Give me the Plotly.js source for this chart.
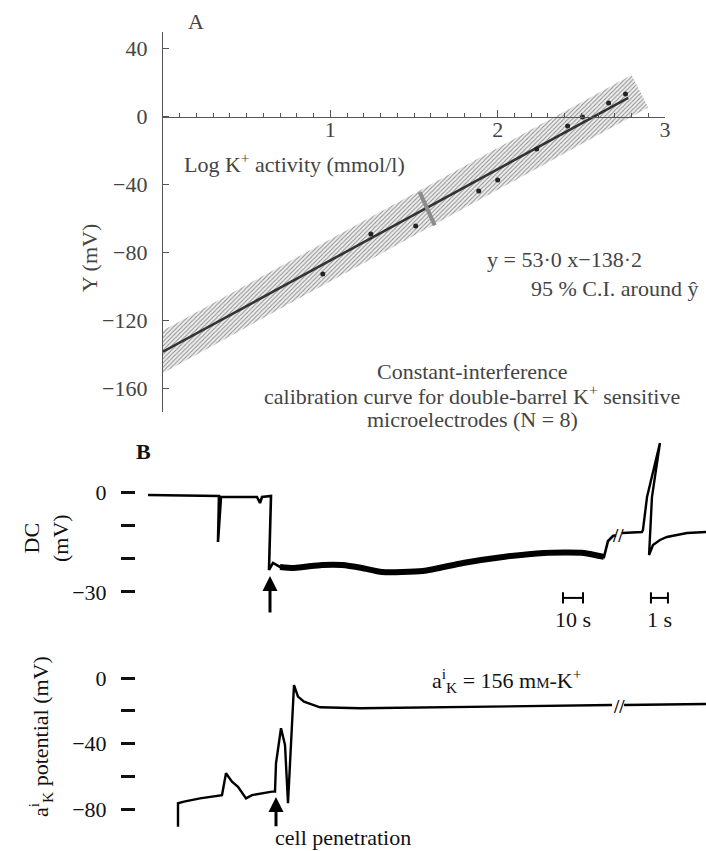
<!DOCTYPE html>
<html>
<head>
<meta charset="utf-8">
<script src="https://cdn.plot.ly/plotly-3.0.1.min.js"></script>
<style>
  html, body { margin: 0; padding: 0; background: #fff; }
  #chart { width: 706px; height: 851px; }
</style>
</head>
<body>
<div id="chart"></div>
<script>
// ---------- Panel A: calibration data ----------
const logK = [0.955, 1.242, 1.510, 1.887, 2.000, 2.233, 2.418, 2.507, 2.663, 2.764];
const yMv  = [-92.5, -69.0, -64.3, -43.7, -37.2, -19.0, -5.5, -0.2, 8.1, 13.4];
const fitX = [0, 2.78];
const fitY = [-138.2, 11.0];
const ciX  = [0, 2.80, 2.90, 0];
const ciY  = [-125.7, 24.5, 5.4, -150.7];
const meanMarkX = [1.534, 1.624];
const meanMarkY = [-44.4, -63.9];
const aYTicks = [40, 0, -40, -80, -120, -160];
const aXTicks = [1, 2, 3];

// ---------- Panel B: recordings ----------
// slow time base (s) before the break, fast time base (s) after the break
const dcSlowT = [0, 35.5, 35, 36.5, 54.5, 56, 57, 61.5, 60.5, 62.5, 66, 73, 87, 97, 107, 117, 137.5, 157.5, 177.5, 198, 218, 228, 230, 232.5, 234];
const dcSlowV = [-0.9, -1.2, -15.0, -1.5, -1.5, -3.3, -1.5, -1.2, -23.4, -21.3, -22.5, -22.8, -21.9, -21.9, -22.8, -24.0, -23.7, -21.3, -19.5, -18.3, -18.3, -19.5, -14.7, -13.2, -13.0];
const dcNoisyFrom = 10, dcNoisyTo = 21;   // index range of the noisy (thick) stretch
const dcFastT = [0.12, 1.29, 1.35, 1.59, 2.35, 1.88, 1.71, 1.94, 2.35, 2.76, 3.94, 5.06];
const dcFastV = [-12.3, -12.0, -11.4, -1.5, 14.7, -1.5, -18.9, -15.9, -14.4, -13.5, -12.3, -12.0];

const akSlowT = [15, 15, 18, 26, 37, 39, 42, 45, 49, 52, 62, 63.5, 64, 66.5, 68.5, 70, 73, 75, 78, 86, 106, 166, 232];
const akSlowV = [-90.8, -76.5, -75.5, -73.5, -71.5, -58.2, -63.3, -66.4, -73.5, -71.5, -69.4, -69.4, -52.1, -30.7, -40.9, -76.5, -4.3, -11.4, -14.5, -17.9, -18.5, -17.5, -16.5];
const akFastT = [0.24, 5.06];
const akFastV = [-16.5, -15.9];

const dcTickVals = [0, -10, -20, -30];
const dcTickText = ['0', '', '', '\u221230'];
const akTickVals = [0, -20, -40, -60, -80];
const akTickText = ['0', '', '\u221240', '', '\u221280'];

const bar10T = [207.5, 217.5];
const bar1T  = [1.82, 2.82];
const barV   = [-31.8, -31.8];

// ---------- layout helpers ----------
const W = 706, H = 851;
const px = x => x / W;
const py = y => 1 - y / H;
const SERIF = 'Liberation Serif, Times New Roman, serif';
const grayTxt = '#444';
const fA = {family: SERIF, size: 22, color: grayTxt};
const fB = {family: SERIF, size: 22, color: '#111'};

function note(text, x, y, font, opts) {
  return Object.assign({text: text, x: px(x), y: py(y), xref: 'paper', yref: 'paper',
    xanchor: 'center', yanchor: 'middle', showarrow: false, font: font}, opts || {});
}

const traces = [
  // Panel A
  {x: ciX, y: ciY, type: 'scatter', mode: 'lines', fill: 'toself',
   fillcolor: '#efefef', line: {width: 0, color: 'rgba(0,0,0,0)'},
   fillpattern: {shape: '/', fgcolor: '#8a8a8a', bgcolor: '#efefef', size: 3, solidity: 0.32},
   xaxis: 'x', yaxis: 'y', hoverinfo: 'skip'},
  {x: fitX, y: fitY, type: 'scatter', mode: 'lines',
   line: {color: '#333', width: 2.6}, xaxis: 'x', yaxis: 'y'},
  {x: meanMarkX, y: meanMarkY, type: 'scatter', mode: 'lines',
   line: {color: '#8c8c8c', width: 4}, xaxis: 'x', yaxis: 'y'},
  {x: logK, y: yMv, type: 'scatter', mode: 'markers',
   marker: {color: '#222', size: 5}, xaxis: 'x', yaxis: 'y'},

  // Panel B, DC trace
  {x: dcSlowT, y: dcSlowV, type: 'scatter', mode: 'lines',
   line: {color: '#000', width: 2.6}, xaxis: 'x2', yaxis: 'y2'},
  {x: dcSlowT.slice(dcNoisyFrom, dcNoisyTo + 1), y: dcSlowV.slice(dcNoisyFrom, dcNoisyTo + 1),
   type: 'scatter', mode: 'lines',
   line: {color: '#000', width: 6, shape: 'spline', smoothing: 0.6}, xaxis: 'x2', yaxis: 'y2'},
  {x: dcFastT, y: dcFastV, type: 'scatter', mode: 'lines',
   line: {color: '#000', width: 2.4}, xaxis: 'x3', yaxis: 'y2'},
  // scale bars
  {x: bar10T, y: barV, type: 'scatter', mode: 'lines+markers',
   line: {color: '#000', width: 2}, marker: {symbol: 'line-ns', size: 8, line: {width: 2, color: '#000'}},
   xaxis: 'x2', yaxis: 'y2'},
  {x: bar1T, y: barV, type: 'scatter', mode: 'lines+markers',
   line: {color: '#000', width: 2}, marker: {symbol: 'line-ns', size: 8, line: {width: 2, color: '#000'}},
   xaxis: 'x3', yaxis: 'y2'},

  // Panel B, aK trace
  {x: akSlowT, y: akSlowV, type: 'scatter', mode: 'lines',
   line: {color: '#000', width: 2.4}, xaxis: 'x2', yaxis: 'y3'},
  {x: akFastT, y: akFastV, type: 'scatter', mode: 'lines',
   line: {color: '#000', width: 2.4}, xaxis: 'x3', yaxis: 'y3'}
];

const yBAxis = (dom, range, tv, tt) => ({
  domain: dom, range: range, anchor: 'free', position: px(135),
  showline: false, zeroline: false, showgrid: false,
  ticks: 'outside', ticklen: 14, tickwidth: 3, tickcolor: '#111',
  tickmode: 'array', tickvals: tv, ticktext: tt,
  ticklabelstandoff: 10, tickfont: fB
});

const breakFont = {family: SERIF, size: 19, color: '#111'};

const layout = {
  width: W, height: H,
  margin: {l: 0, r: 0, t: 0, b: 0},
  paper_bgcolor: '#fff', plot_bgcolor: 'rgba(0,0,0,0)',
  showlegend: false,
  xaxis: {
    domain: [px(163), px(665)], range: [0, 3],
    anchor: 'free', position: py(116.7),
    showline: true, linecolor: '#555', linewidth: 1.2,
    zeroline: false, showgrid: false,
    ticks: 'inside', ticklen: 7, tickcolor: '#555',
    tickmode: 'array', tickvals: aXTicks,
    ticklabelstandoff: -7,
    minor: {tickmode: 'linear', tick0: 0, dtick: 0.1, ticks: 'inside', ticklen: 4, tickcolor: '#555', showgrid: false},
    tickfont: fA
  },
  yaxis: {
    domain: [py(412), py(32)], range: [-173.7, 49.8],
    anchor: 'x', showline: true, linecolor: '#555', linewidth: 1.2,
    zeroline: false, showgrid: false,
    ticks: 'inside', ticklen: 6, tickcolor: '#555',
    tickmode: 'array', tickvals: aYTicks,
    ticklabelstandoff: 10, tickfont: fA
  },
  xaxis2: {domain: [px(148), px(618)], range: [0, 235], visible: false, anchor: 'y2'},
  xaxis3: {domain: [px(620), 1], range: [0, 86 / 17], visible: false, anchor: 'y2'},
  yaxis2: yBAxis([py(640), py(440)], [-44.44, 15.62], dcTickVals, dcTickText),
  yaxis3: yBAxis([py(830), py(648)], [-92.82, 18.32], akTickVals, akTickText),
  annotations: [
    note('A', 196, 22, fA),
    note('Y (mV)', 90, 258, fA, {textangle: -90}),
    note('Log K<sup>+</sup> activity (mmol/l)', 182, 163, fA, {xanchor: 'left'}),
    note('y = 53\u00b70 x\u2212138\u00b72', 485, 259, fA, {xanchor: 'left'}),
    note('95 % C.I. around \u0177', 700, 288, fA, {xanchor: 'right'}),
    note('Constant-interference', 472, 371, fA),
    note('calibration curve for double-barrel K<sup>+</sup> sensitive', 472, 395, fA),
    note('microelectrodes (N = 8)', 472, 419, fA),

    note('<b>B</b>', 143, 452, fB),
    note('DC<br>(mV)', 46, 538, fB, {textangle: -90}),
    note('a<sup>i</sup><sub>K</sub> potential (mV)', 40, 737, fB, {textangle: -90}),
    note('a<sup>i</sup><sub>K</sub> = 156 m<span style="font-size:15px">M</span>-K<sup>+</sup>', 506, 680, fB),
    note('cell penetration', 273, 837, fB, {xanchor: 'left'}),
    {text: '10 s', x: 212.5, y: -38.4, xref: 'x2', yref: 'y2', xanchor: 'center', yanchor: 'middle', showarrow: false, font: fB},
    {text: '1 s', x: 2.32, y: -38.4, xref: 'x3', yref: 'y2', xanchor: 'center', yanchor: 'middle', showarrow: false, font: fB},
    note('<b>//</b>', 618, 535, breakFont),
    note('<b>//</b>', 619, 706, breakFont),
    // arrows marking cell penetration
    {text: '', x: 61, y: -25.2, xref: 'x2', yref: 'y2', ax: 61, ay: -36.6, axref: 'x2', ayref: 'y2',
     showarrow: true, arrowhead: 2, arrowsize: 1, arrowwidth: 3, arrowcolor: '#000'},
    {text: '', x: 64, y: -72.7, xref: 'x2', yref: 'y3', ax: 64, ay: -91.5, axref: 'x2', ayref: 'y3',
     showarrow: true, arrowhead: 2, arrowsize: 1, arrowwidth: 3, arrowcolor: '#000'}
  ]
};

Plotly.newPlot('chart', traces, layout, {displayModeBar: false, staticPlot: true});
</script>
</body>
</html>
